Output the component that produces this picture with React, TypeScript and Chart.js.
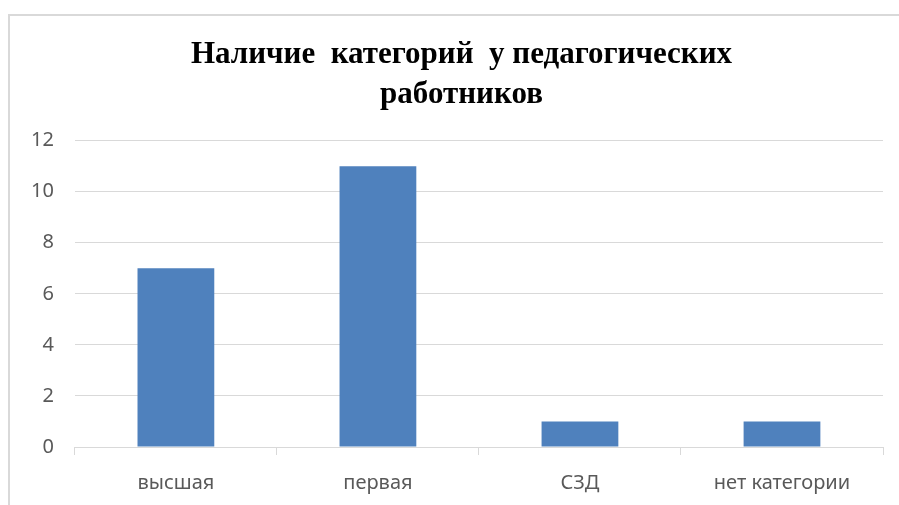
import React, { useEffect, useRef } from "react";
import { Chart, registerables } from "chart.js";

Chart.register(...registerables);

const categories = ["высшая", "первая", "СЗД", "нет категории"];
const values = [7, 11, 1, 1];
const titleLines = ["Наличие  категорий  у педагогических", "работников"];
const yMin = 0;
const yMax = 12;
const yStep = 2;

const titleShift = {
  id: "titleShift",
  afterLayout(chart: any) {
    const t = chart.titleBlock;
    if (t) t.left += 30;
  },
};

export default function App() {
  const ref = useRef<HTMLCanvasElement | null>(null);
  useEffect(() => {
    if (!ref.current) return;
    const chart = new Chart(ref.current, {
      type: "bar",
      data: {
        labels: categories,
        datasets: [
          {
            data: values,
            backgroundColor: "#4F81BD",
            borderWidth: 0,
            categoryPercentage: 1,
            barPercentage: 0.38,
          },
        ],
      },
      options: {
        responsive: false,
        animation: false,
        layout: { padding: { left: 0, right: 29, top: 19, bottom: 0 } },
        plugins: {
          legend: { display: false },
          tooltip: { enabled: false },
          title: {
            display: true,
            text: titleLines,
            color: "#000000",
            font: { family: "'Liberation Serif', serif", size: 31, weight: "bold", lineHeight: 1.3 },
            padding: { top: 0, bottom: 25 },
          },
        },
        scales: {
          x: {
            grid: {
              display: true,
              drawOnChartArea: false,
              drawTicks: true,
              tickLength: 8,
              color: "#d9d9d9",
              offset: true,
            },
            border: { display: true, color: "#d9d9d9", width: 1 },
            ticks: {
              color: "#595959",
              font: { family: "'Noto Sans', sans-serif", size: 20 },
              padding: 16,
              maxRotation: 0,
            },
          },
          y: {
            min: yMin,
            max: yMax,
            grid: { color: "#d9d9d9", drawTicks: false, lineWidth: 1 },
            border: { display: false },
            ticks: {
              stepSize: yStep,
              color: "#595959",
              font: { family: "'Noto Sans', sans-serif", size: 20 },
              padding: 21,
            },
          },
        },
      },
      plugins: [titleShift],
    });
    return () => chart.destroy();
  }, []);
  return (
    <div
      style={{
        position: "absolute",
        left: 8,
        top: 14,
        width: 930,
        height: 520,
        border: "2px solid #d9d9d9",
        background: "#fff",
        boxSizing: "content-box",
      }}
    >
      <canvas ref={ref} width={902} height={495} style={{ display: "block" }} />
    </div>
  );
}
